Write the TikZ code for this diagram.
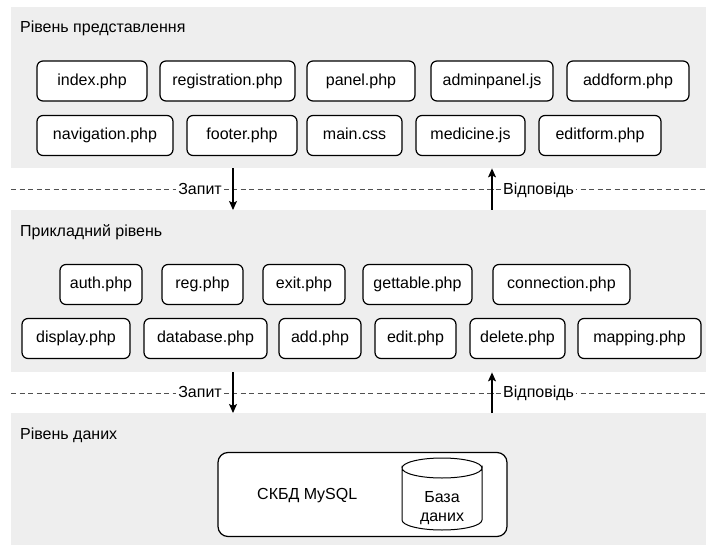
\documentclass[tikz,border=0pt]{standalone}
\usepackage{fontspec}
\setmainfont{Liberation Sans}
\usetikzlibrary{arrows.meta}
\definecolor{panelgray}{HTML}{EEEEEE}
\definecolor{dashgray}{HTML}{505050}
\begin{document}
\begin{tikzpicture}[x=1pt,y=-1pt,
  every node/.style={font=\fontsize{16}{19}\selectfont},
  panel/.style={fill=panelgray, draw=none, anchor=north west, inner sep=0pt},
  layertitle/.style={anchor=west, inner sep=0pt, text height=12pt, text depth=3.5pt},
  filebox/.style={draw=black, line width=1.2pt, rounded corners=6pt, fill=white,
    minimum height=40pt, inner sep=0pt, text height=12pt, text depth=3.5pt},
  sep/.style={draw=dashgray, line width=1pt, dash pattern=on 5pt off 3.5pt},
  flowlabel/.style={fill=white, inner sep=2pt, text height=12pt, text depth=3.5pt},
  flow/.style={draw=black, line width=1.1pt, -{Stealth[length=9pt,width=8pt,inset=2pt]}}
]
\useasboundingbox (0,0) rectangle (706,545);
\fill[white] (0,0) rectangle (706,545);

% layer panels
\node[panel, minimum width=695pt, minimum height=161pt] (p1) at (11,7) {};
\node[panel, minimum width=695pt, minimum height=162pt] (p2) at (11,210) {};
\node[panel, minimum width=695pt, minimum height=132pt] (p3) at (11,413) {};

\node[layertitle] (t1) at (20,28) {Рівень представлення};
\node[layertitle] (t2) at (20,232) {Прикладний рівень};
\node[layertitle] (t3) at (20,435) {Рівень даних};

% presentation layer files
\node[filebox, minimum width=110pt] (f1) at (92,81) {index.php};
\node[filebox, minimum width=135pt] (f2) at (227.5,81) {registration.php};
\node[filebox, minimum width=108pt] (f3) at (361,81) {panel.php};
\node[filebox, minimum width=122pt] (f4) at (492,81) {adminpanel.js};
\node[filebox, minimum width=122pt] (f5) at (628,81) {addform.php};
\node[filebox, minimum width=136pt] (f6) at (105,135.5) {navigation.php};
\node[filebox, minimum width=110pt] (f7) at (242,135.5) {footer.php};
\node[filebox, minimum width=95pt] (f8) at (354.5,135.5) {main.css};
\node[filebox, minimum width=109pt] (f9) at (470.5,135.5) {medicine.js};
\node[filebox, minimum width=122pt] (f10) at (600,135.5) {editform.php};

% application layer files
\node[filebox, minimum width=82pt] (a1) at (101,284.5) {auth.php};
\node[filebox, minimum width=81pt] (a2) at (202.5,284.5) {reg.php};
\node[filebox, minimum width=82pt] (a3) at (304,284.5) {exit.php};
\node[filebox, minimum width=109pt] (a4) at (417.5,284.5) {gettable.php};
\node[filebox, minimum width=137pt] (a5) at (561.5,284.5) {connection.php};
\node[filebox, minimum width=108pt] (a6) at (76,338.5) {display.php};
\node[filebox, minimum width=123pt] (a7) at (205.5,338.5) {database.php};
\node[filebox, minimum width=82pt] (a8) at (320,338.5) {add.php};
\node[filebox, minimum width=81pt] (a9) at (415.5,338.5) {edit.php};
\node[filebox, minimum width=95pt] (a10) at (517.5,338.5) {delete.php};
\node[filebox, minimum width=123pt] (a11) at (639.5,338.5) {mapping.php};

% data layer
\node[draw=black, line width=1.2pt, rounded corners=10pt, fill=white,
  minimum width=289pt, minimum height=84pt, inner sep=0pt] (dbms) at (362.5,494.5) {};
\node[anchor=west, inner sep=0pt, text height=12pt, text depth=3.5pt] (dbmsname) at (257,495) {СКБД MySQL};
\draw[line width=1pt, fill=white]
  (402,468) arc[start angle=180, end angle=360, x radius=40, y radius=-10]
  -- (482,520) arc[start angle=0, end angle=-180, x radius=40, y radius=-10] -- cycle;
\draw[line width=1pt] (402,468) arc[start angle=180, end angle=0, x radius=40, y radius=-10];
\node[align=center, inner sep=0pt, font=\fontsize{16}{19}\selectfont] (db) at (442,508) {База\\даних};

% separators between layers
\coordinate (s1l) at (11,190);
\coordinate (s1r) at (706,190);
\coordinate (s2l) at (11,393);
\coordinate (s2r) at (706,393);
\path[sep] (s1l) -- (s1r);
\path[sep] (s2l) -- (s2r);

\node[flowlabel, anchor=east] (q1) at (224,190) {Запит};
\node[flowlabel, anchor=west] (r1) at (501,190) {Відповідь};
\node[flowlabel, anchor=east] (q2) at (224,393) {Запит};
\node[flowlabel, anchor=west] (r2) at (501,393) {Відповідь};
\path[sep] (q1.east) -- ([xshift=12pt]q1.east);
\path[sep] ([xshift=-12pt]r1.west) -- (r1.west);
\path[sep] (q2.east) -- ([xshift=12pt]q2.east);
\path[sep] ([xshift=-12pt]r2.west) -- (r2.west);

% request / response arrows
\coordinate (qx) at (233,0);
\coordinate (rx) at (492,0);
\path[flow] (p1.south -| qx) -- (p2.north -| qx);
\path[flow] (p2.north -| rx) -- (p1.south -| rx);
\path[flow] (p2.south -| qx) -- (p3.north -| qx);
\path[flow] (p3.north -| rx) -- (p2.south -| rx);
\end{tikzpicture}
\end{document}
